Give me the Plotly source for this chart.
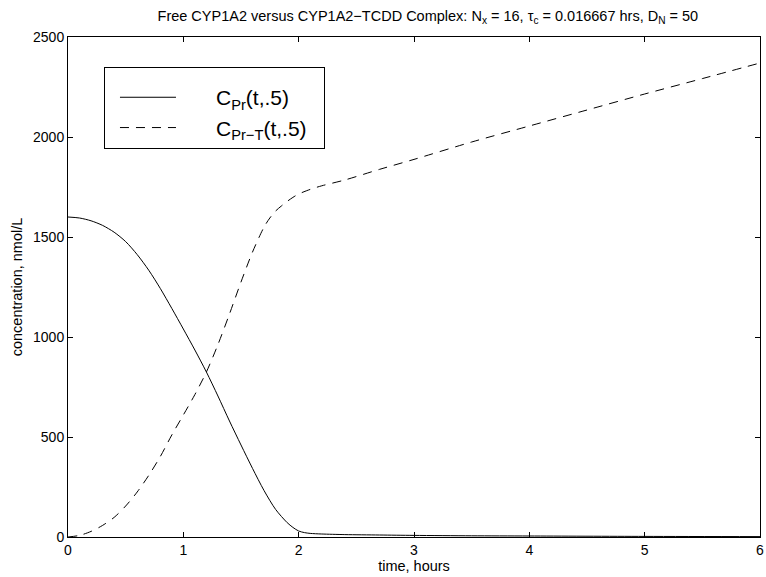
import plotly.graph_objects as go

# time (hours) and free CYP1A2 concentration (nmol/L)
t_free = [0, 0.1, 0.2, 0.3, 0.4, 0.5, 0.6, 0.7, 0.8, 0.9, 1.0, 1.1, 1.2, 1.3, 1.4, 1.5,
          1.6, 1.7, 1.8, 1.9, 1.95, 2.0, 2.05, 2.1, 2.2, 2.4, 2.7, 3.0, 3.5, 4.0, 5.0, 6.0]
c_free = [1600, 1595, 1581, 1558, 1524, 1477, 1412, 1334, 1243, 1143, 1040, 935, 825, 705, 580, 460,
          343, 232, 138, 72, 48, 30, 22, 18, 15, 12, 10, 8, 6, 5, 3, 2]

# time (hours) and CYP1A2-TCDD complex concentration (nmol/L)
t_cplx = [0, 0.1, 0.2, 0.3, 0.4, 0.5, 0.6, 0.7, 0.8, 0.9, 1.0, 1.1, 1.2, 1.3, 1.4, 1.5,
          1.6, 1.7, 1.75, 1.8, 1.85, 1.9, 1.95, 2.0, 2.1, 2.2, 2.4, 2.7, 3.0, 3.5, 4.0, 4.5,
          5.0, 5.5, 6.0]
c_cplx = [0, 8, 28, 58, 98, 155, 225, 308, 402, 510, 610, 712, 825, 962, 1115, 1275,
          1425, 1550, 1595, 1630, 1655, 1678, 1698, 1715, 1738, 1756, 1785, 1838, 1888, 1975, 2055, 2135,
          2215, 2292, 2370]

x_ticks = [0, 1, 2, 3, 4, 5, 6]
y_ticks = [0, 500, 1000, 1500, 2000, 2500]

NB = "\u00a0" * 6
TAIL = "\u00a0" * 2
fig = go.Figure()
fig.add_trace(go.Scatter(x=t_free, y=c_free, mode="lines",
                         name=NB + "C<sub>Pr</sub>(t,.5)" + TAIL,
                         line=dict(color="black", width=1, shape="spline", smoothing=0.8)))
fig.add_trace(go.Scatter(x=t_cplx, y=c_cplx, mode="lines",
                         name=NB + "C<sub>Pr\u2212T</sub>(t,.5)" + TAIL,
                         line=dict(color="black", width=1, dash="9px,7px", shape="spline", smoothing=0.8)))

axis_common = dict(showline=True, linecolor="black", linewidth=1, mirror="ticks",
                   ticks="inside", ticklen=5, tickwidth=1, tickcolor="black",
                   showgrid=False, zeroline=False, ticklabeloverflow="allow",
                   tickfont=dict(family="Liberation Sans, Arial", size=14, color="black"))

fig.update_layout(
    width=766, height=577,
    margin=dict(l=68, r=2, t=37, b=40),
    paper_bgcolor="white", plot_bgcolor="white",
    font=dict(family="Liberation Sans, Arial", color="black"),
    title=dict(text="Free CYP1A2 versus CYP1A2\u2212TCDD Complex: N<sub>x</sub> = 16, "
                    "\u03c4<sub>c</sub> = 0.016667 hrs, D<sub>N</sub> = 50",
               x=0.52, xref="paper", xanchor="center", y=0.982, yref="container",
               font=dict(size=14.5, color="black")),
    xaxis=dict(range=[0, 6], tickvals=x_ticks, **axis_common,
               title=dict(text="time, hours", font=dict(size=14.5), standoff=3)),
    yaxis=dict(range=[0, 2500], tickvals=y_ticks, **axis_common,
               title=dict(text="concentration, nmol/L", font=dict(size=14.5), standoff=6)),
    legend=dict(x=0.052, y=0.94, xanchor="left", yanchor="top",
                bordercolor="black", borderwidth=1, bgcolor="white",
                font=dict(size=21, color="black"), itemwidth=56, indentation=10,
                title=dict(text="\u00a0", font=dict(size=7)),
                tracegroupgap=0),
    showlegend=True,
)

fig.write_html("out.html")
